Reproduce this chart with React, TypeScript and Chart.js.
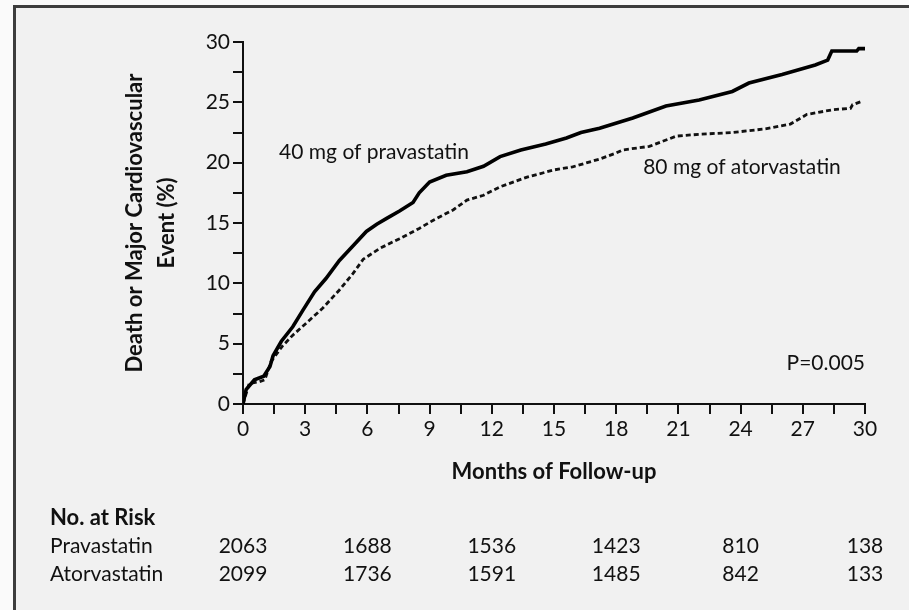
import React, { useEffect, useRef } from "react";
import { Chart, registerables } from "chart.js";

Chart.register(...registerables);

// ---- data ----
const pravaMonths = [0, 0.15, 0.55, 1.0, 1.3, 1.45, 1.85, 2.4, 2.9, 3.45, 4.0, 4.65, 5.3, 5.95, 6.45, 6.95, 7.55, 8.2, 8.5, 9.0, 9.8, 10.8, 11.6, 12.4, 13.4, 14.6, 15.6, 16.3, 17.2, 18.8, 20.4, 22.0, 23.6, 24.4, 26.0, 27.6, 28.2, 28.4, 29.6, 29.7, 30.05];
const pravaValues = [0, 1.2, 2.0, 2.3, 3.1, 4.0, 5.2, 6.4, 7.8, 9.3, 10.4, 11.9, 13.1, 14.3, 14.9, 15.4, 16.0, 16.7, 17.5, 18.4, 18.95, 19.25, 19.7, 20.5, 21.05, 21.55, 22.05, 22.5, 22.85, 23.7, 24.7, 25.2, 25.9, 26.6, 27.3, 28.1, 28.5, 29.25, 29.25, 29.45, 29.45];

const atorMonths = [0, 0.3, 0.8, 1.05, 1.35, 1.9, 2.4, 3.05, 3.85, 4.65, 5.3, 5.8, 6.6, 7.55, 8.5, 9.2, 10.15, 10.8, 11.6, 12.4, 13.7, 15.0, 15.9, 17.2, 18.0, 18.3, 19.6, 20.9, 22.0, 23.6, 25.2, 26.4, 27.2, 28.5, 29.3, 29.4, 29.8];
const atorValues = [0, 1.7, 1.85, 2.0, 3.5, 4.8, 5.7, 6.7, 7.95, 9.45, 10.8, 12.0, 12.9, 13.7, 14.55, 15.25, 16.1, 16.9, 17.3, 18.0, 18.8, 19.4, 19.65, 20.3, 20.8, 21.05, 21.35, 22.2, 22.35, 22.5, 22.8, 23.2, 24.0, 24.4, 24.5, 24.8, 25.05];

const riskMonths = [0, 6, 12, 18, 24, 30];
const riskPrava = [2063, 1688, 1536, 1423, 810, 138];
const riskAtor = [2099, 1736, 1591, 1485, 842, 133];
const riskRowLabels = ["Pravastatin", "Atorvastatin"];

const FONT = "Lato, 'Open Sans', 'Noto Sans', sans-serif";
const TEXT = "#111";

const annotPlugin = {
  id: "annot",
  afterDraw(chart: any) {
    const { ctx } = chart;
    const xs = chart.scales.x;
    const ys = chart.scales.y;
    ctx.save();
    ctx.fillStyle = TEXT;
    ctx.textBaseline = "middle";
    ctx.font = `21px ${FONT}`;
    ctx.textAlign = "left";
    ctx.fillText("40 mg of pravastatin", xs.getPixelForValue(1.74), ys.getPixelForValue(20.9));
    ctx.fillText("80 mg of atorvastatin", xs.getPixelForValue(19.3), ys.getPixelForValue(19.6));
    ctx.textAlign = "right";
    ctx.fillText("P=0.005", xs.getPixelForValue(30), ys.getPixelForValue(3.4));

    // risk table
    ctx.textBaseline = "alphabetic";
    ctx.textAlign = "left";
    ctx.font = `bold 22px ${FONT}`;
    ctx.fillText("No. at Risk", 50, 525);
    ctx.font = `21px ${FONT}`;
    const rows = [riskPrava, riskAtor];
    const baselines = [553, 581];
    rows.forEach((row, r) => {
      ctx.textAlign = "left";
      ctx.fillText(riskRowLabels[r], 50, baselines[r]);
      ctx.textAlign = "center";
      row.forEach((v, i) => {
        ctx.fillText(String(v), xs.getPixelForValue(riskMonths[i]), baselines[r]);
      });
    });
    ctx.restore();
  },
};

export default function App() {
  const ref = useRef<HTMLCanvasElement>(null);
  useEffect(() => {
    if (!ref.current) return;
    Chart.defaults.font.family = FONT;
    Chart.defaults.color = TEXT;
    const chart = new Chart(ref.current, {
      type: "line",
      data: {
        datasets: [
          {
            label: "40 mg of pravastatin",
            data: pravaMonths.map((m, i) => ({ x: m, y: pravaValues[i] })),
            borderColor: "#000",
            borderWidth: 3.6,
            pointRadius: 0,
            tension: 0,
            fill: false,
          },
          {
            label: "80 mg of atorvastatin",
            data: atorMonths.map((m, i) => ({ x: m, y: atorValues[i] })),
            borderColor: "#111",
            borderWidth: 2.8,
            borderDash: [5, 3],
            pointRadius: 0,
            tension: 0,
            fill: false,
          },
        ],
      },
      options: {
        animation: false,
        responsive: false,
        events: [],
        layout: { padding: { left: 100, right: 44, top: 42, bottom: 126 } },
        plugins: { legend: { display: false }, tooltip: { enabled: false } },
        scales: {
          x: {
            type: "linear",
            min: 0,
            max: 30,
            afterFit: (s: any) => {
              s.height = 80;
            },
            border: { display: true, color: "#111", width: 2 },
            grid: { drawOnChartArea: false, drawTicks: true, tickLength: 10, color: "#111", lineWidth: 2 },
            ticks: {
              stepSize: 1.5,
              autoSkip: false,
              maxRotation: 0,
              padding: 3,
              color: TEXT,
              font: { size: 21 },
              callback: (v: any) => (Number(v) % 3 === 0 ? String(v) : ""),
            },
            title: {
              display: true,
              text: "Months of Follow-up",
              color: TEXT,
              font: { size: 22, weight: "bold", lineHeight: "24px" as any },
              padding: { top: 0, bottom: 0 },
            },
          },
          y: {
            min: 0,
            max: 30,
            afterFit: (s: any) => {
              s.width = 143;
            },
            border: { display: true, color: "#111", width: 2 },
            grid: { drawOnChartArea: false, drawTicks: true, tickLength: 10, color: "#111", lineWidth: 2 },
            ticks: {
              stepSize: 2.5,
              autoSkip: false,
              padding: 3,
              color: TEXT,
              font: { size: 21 },
              callback: (v: any) => (Number(v) % 5 === 0 ? String(v) : ""),
            },
            title: {
              display: true,
              text: ["Death or Major Cardiovascular", "Event (%)"],
              color: TEXT,
              font: { size: 22, weight: "bold", lineHeight: "32px" as any },
              padding: { top: 19, bottom: 0 },
            },
          },
        },
      },
      plugins: [annotPlugin],
    });
    return () => chart.destroy();
  }, []);

  return (
    <div style={{ position: "fixed", left: 0, top: 0, width: 909, height: 610, background: "#fafafa", overflow: "hidden" }}>
      <div
        style={{
          position: "absolute",
          left: 13,
          top: 5,
          right: 0,
          bottom: 0,
          background: "#f1f1f1",
          borderLeft: "3px solid #3d3d3d",
          borderTop: "3px solid #3d3d3d",
        }}
      />
      <canvas ref={ref} width={909} height={610} style={{ position: "absolute", left: 0, top: 0, width: 909, height: 610 }} />
    </div>
  );
}
